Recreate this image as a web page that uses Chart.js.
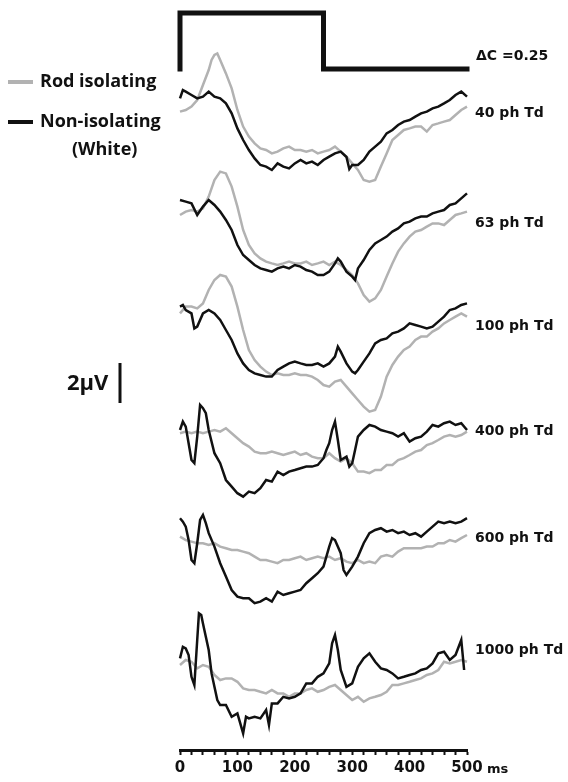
<!DOCTYPE html>
<html>
<head>
<meta charset="utf-8">
<script src="https://cdn.jsdelivr.net/npm/chart.js@4.4.0/dist/chart.umd.min.js"></script>
<style>
  html, body { margin: 0; padding: 0; background: #fff; }
  canvas { display: block; }
</style>
</head>
<body>
<canvas id="ergChart" width="568" height="782"></canvas>
<script>
// stimulus (contrast step, ΔC = 0.25, 0-250 ms)
const stimTime = [0, 0, 250, 250, 500];
const stimContrast = [0, 0.25, 0.25, 0, 0];

// retinal illuminance of each pair of traces
const intensities = ['40 ph Td', '63 ph Td', '100 ph Td', '400 ph Td', '600 ph Td', '1000 ph Td'];

// responses, [time ms, µV]
const rod40 = [[0,-0.33],[10,-0.25],[20,-0.08],[30,0.25],[40,1.0],[50,1.75],[55,2.25],[60,2.5],[65,2.58],[70,2.25],[80,1.58],[90,0.83],[100,-0.25],[110,-1.08],[120,-1.58],[130,-1.92],[140,-2.17],[150,-2.25],[160,-2.42],[170,-2.33],[180,-2.17],[190,-2.08],[200,-2.25],[210,-2.25],[220,-2.33],[230,-2.25],[240,-2.42],[250,-2.33],[260,-2.25],[270,-2.08],[280,-2.33],[290,-2.58],[300,-2.92],[310,-3.25],[320,-3.75],[330,-3.83],[340,-3.75],[350,-3.08],[360,-2.42],[370,-1.75],[380,-1.5],[390,-1.25],[400,-1.17],[410,-1.08],[420,-1.08],[430,-1.33],[440,-1.0],[450,-0.92],[460,-0.83],[470,-0.75],[480,-0.5],[490,-0.25],[500,-0.08]];
const white40 = [[0,0.33],[5,0.75],[10,0.67],[20,0.5],[30,0.33],[40,0.42],[50,0.67],[60,0.42],[70,0.33],[80,0.08],[90,-0.42],[100,-1.17],[110,-1.75],[120,-2.25],[130,-2.67],[140,-3.0],[150,-3.08],[160,-3.25],[170,-2.92],[180,-3.08],[190,-3.17],[200,-2.92],[210,-2.75],[220,-2.92],[230,-2.83],[240,-3.0],[250,-2.75],[260,-2.58],[270,-2.42],[280,-2.33],[290,-2.6],[295,-3.2],[300,-3.0],[310,-3.0],[320,-2.75],[330,-2.33],[340,-2.08],[350,-1.83],[360,-1.42],[370,-1.25],[380,-1.0],[390,-0.83],[400,-0.75],[410,-0.58],[420,-0.42],[430,-0.33],[440,-0.17],[450,-0.08],[460,0.08],[470,0.25],[480,0.5],[490,0.67],[500,0.42]];

const rod63 = [[0,0],[10,0.17],[20,0.25],[30,0.17],[40,0.33],[50,0.92],[60,1.75],[70,2.17],[80,2.08],[90,1.42],[100,0.42],[110,-0.75],[120,-1.5],[130,-1.92],[140,-2.17],[150,-2.33],[160,-2.42],[170,-2.5],[180,-2.42],[190,-2.33],[200,-2.42],[210,-2.42],[220,-2.33],[230,-2.5],[240,-2.42],[250,-2.33],[260,-2.5],[270,-2.33],[280,-2.5],[290,-2.75],[300,-3.0],[310,-3.42],[320,-4.0],[330,-4.33],[340,-4.17],[350,-3.75],[360,-3.08],[370,-2.42],[380,-1.83],[390,-1.42],[400,-1.08],[410,-0.83],[420,-0.75],[430,-0.58],[440,-0.42],[450,-0.42],[460,-0.5],[470,-0.25],[480,0],[490,0.08],[500,0.17]];
const white63 = [[0,0.75],[10,0.67],[20,0.58],[30,0],[40,0.42],[50,0.75],[60,0.5],[70,0.17],[80,-0.25],[90,-0.75],[100,-1.5],[110,-2.0],[120,-2.25],[130,-2.5],[140,-2.67],[150,-2.75],[160,-2.83],[170,-2.67],[180,-2.58],[190,-2.67],[200,-2.5],[210,-2.58],[220,-2.75],[230,-2.83],[240,-3.0],[250,-3.0],[260,-2.83],[270,-2.42],[275,-2.17],[280,-2.33],[290,-2.83],[300,-3.08],[305,-3.25],[310,-2.67],[320,-2.25],[330,-1.75],[340,-1.42],[350,-1.25],[360,-1.08],[370,-0.83],[380,-0.67],[390,-0.42],[400,-0.33],[410,-0.17],[420,-0.08],[430,-0.08],[440,0.08],[450,0.17],[460,0.25],[470,0.5],[480,0.58],[490,0.83],[500,1.08]];

const rod100 = [[0,-0.17],[10,0.17],[20,0.17],[30,0.08],[40,0.33],[50,1.0],[60,1.5],[70,1.75],[80,1.67],[90,1.17],[100,0.17],[110,-1.0],[120,-2.0],[130,-2.5],[140,-2.83],[150,-3.08],[160,-3.25],[170,-3.17],[180,-3.25],[190,-3.25],[200,-3.17],[210,-3.25],[220,-3.25],[230,-3.33],[240,-3.5],[250,-3.75],[260,-3.83],[270,-3.58],[280,-3.5],[290,-3.83],[300,-4.17],[310,-4.5],[320,-4.83],[330,-5.08],[340,-5.0],[350,-4.33],[360,-3.33],[370,-2.75],[380,-2.33],[390,-2.0],[400,-1.83],[410,-1.5],[420,-1.33],[430,-1.33],[440,-1.08],[450,-0.92],[460,-0.67],[470,-0.5],[480,-0.33],[490,-0.17],[500,-0.33]];
const white100 = [[0,0.17],[5,0.25],[10,0],[20,-0.17],[25,-0.92],[30,-0.83],[40,-0.17],[50,0],[60,-0.17],[70,-0.5],[80,-1.0],[90,-1.5],[100,-2.17],[110,-2.67],[120,-3.0],[130,-3.17],[140,-3.25],[150,-3.33],[160,-3.33],[170,-3.0],[180,-2.83],[190,-2.67],[200,-2.58],[210,-2.67],[220,-2.75],[230,-2.75],[240,-2.67],[250,-2.83],[260,-2.67],[270,-2.33],[275,-1.83],[280,-2.08],[290,-2.67],[300,-3.08],[305,-3.17],[310,-3.0],[320,-2.58],[330,-2.17],[340,-1.67],[350,-1.5],[360,-1.42],[370,-1.17],[380,-1.08],[390,-0.92],[400,-0.67],[410,-0.75],[420,-0.83],[430,-0.92],[440,-0.83],[450,-0.58],[460,-0.33],[470,0],[480,0.08],[490,0.25],[500,0.33]];

const rod400 = [[0,-0.08],[10,0],[20,-0.08],[30,0],[40,-0.08],[50,0],[60,0.08],[70,0],[80,0.17],[90,-0.08],[100,-0.33],[110,-0.58],[120,-0.75],[130,-1.0],[140,-1.08],[150,-1.08],[160,-1.0],[170,-1.08],[180,-1.17],[190,-1.08],[200,-1.0],[210,-1.17],[220,-1.08],[230,-1.25],[240,-1.33],[250,-1.33],[260,-1.08],[270,-1.33],[280,-1.5],[290,-1.33],[300,-1.58],[310,-2.0],[320,-2.0],[330,-2.08],[340,-1.92],[350,-1.92],[360,-1.67],[370,-1.67],[380,-1.42],[390,-1.33],[400,-1.17],[410,-1.0],[420,-0.92],[430,-0.67],[440,-0.58],[450,-0.42],[460,-0.25],[470,-0.17],[480,-0.25],[490,-0.17],[500,0]];
const white400 = [[0,0.08],[5,0.5],[10,0.25],[15,-0.58],[20,-1.42],[25,-1.58],[30,-0.25],[35,1.33],[40,1.17],[45,0.92],[50,0.08],[60,-1.08],[70,-1.58],[80,-2.42],[90,-2.75],[100,-3.08],[110,-3.25],[120,-3.0],[130,-3.08],[140,-2.83],[150,-2.42],[160,-2.5],[170,-2.0],[180,-2.17],[190,-2.0],[200,-1.92],[210,-1.83],[220,-1.75],[230,-1.75],[240,-1.67],[250,-1.33],[255,-0.92],[260,-0.58],[265,0.08],[270,0.5],[275,-0.42],[280,-1.42],[290,-1.25],[295,-1.75],[300,-1.58],[305,-0.92],[310,-0.25],[320,0.08],[330,0.33],[340,0.25],[350,0.08],[360,0],[370,-0.08],[380,-0.25],[390,-0.08],[400,-0.5],[410,-0.33],[420,-0.25],[430,0],[440,0.33],[450,0.25],[460,0.42],[470,0.5],[480,0.33],[490,0.42],[500,0.08]];

const rod600 = [[0,0],[10,-0.17],[20,-0.25],[30,-0.33],[40,-0.33],[50,-0.42],[60,-0.33],[70,-0.5],[80,-0.58],[90,-0.67],[100,-0.67],[110,-0.75],[120,-0.83],[130,-1.0],[140,-1.17],[150,-1.17],[160,-1.25],[170,-1.33],[180,-1.17],[190,-1.17],[200,-1.08],[210,-1.0],[220,-1.17],[230,-1.08],[240,-1.0],[250,-1.08],[260,-1.0],[270,-1.17],[280,-1.08],[290,-1.25],[300,-1.33],[310,-1.17],[320,-1.33],[330,-1.25],[340,-1.33],[350,-1.0],[360,-0.92],[370,-1.0],[380,-0.75],[390,-0.58],[400,-0.58],[410,-0.58],[420,-0.58],[430,-0.5],[440,-0.5],[450,-0.33],[460,-0.33],[470,-0.17],[480,-0.25],[490,-0.08],[500,0.08]];
const white600 = [[0,0.92],[5,0.75],[10,0.5],[15,-0.17],[20,-1.17],[25,-1.33],[30,-0.33],[35,0.83],[40,1.08],[45,0.67],[50,0.17],[60,-0.5],[70,-1.33],[80,-2.0],[90,-2.67],[100,-3.0],[110,-3.08],[120,-3.08],[130,-3.33],[140,-3.25],[150,-3.08],[160,-3.25],[170,-2.75],[180,-2.92],[190,-2.83],[200,-2.75],[210,-2.67],[220,-2.33],[230,-2.08],[240,-1.83],[250,-1.5],[260,-0.5],[265,-0.08],[270,-0.17],[280,-0.83],[285,-1.67],[290,-1.92],[300,-1.5],[310,-1.0],[320,-0.33],[330,0.17],[340,0.33],[350,0.42],[360,0.25],[370,0.33],[380,0.17],[390,0.25],[400,0.08],[410,0.17],[420,0],[430,0.25],[440,0.5],[450,0.75],[460,0.67],[470,0.75],[480,0.67],[490,0.75],[500,0.92]];

const rod1000 = [[0,-0.08],[10,0.17],[20,0.08],[30,-0.25],[40,-0.08],[50,-0.17],[60,-0.58],[70,-0.83],[80,-0.75],[90,-0.75],[100,-0.92],[110,-1.25],[120,-1.33],[130,-1.33],[140,-1.42],[150,-1.5],[160,-1.33],[170,-1.5],[180,-1.5],[190,-1.67],[200,-1.5],[210,-1.5],[220,-1.33],[230,-1.25],[240,-1.42],[250,-1.33],[260,-1.17],[270,-1.08],[280,-1.33],[290,-1.58],[300,-1.83],[310,-1.67],[320,-1.92],[330,-1.75],[340,-1.67],[350,-1.58],[360,-1.42],[370,-1.08],[380,-1.08],[390,-1.0],[400,-0.92],[410,-0.83],[420,-0.75],[430,-0.58],[440,-0.5],[450,-0.33],[460,0.08],[470,0],[480,0.08],[490,0.17],[500,0.08]];
const white1000 = [[0,0.25],[5,0.83],[10,0.75],[15,0.42],[20,-0.67],[25,-1.08],[30,1.17],[33,2.5],[37,2.42],[40,2.0],[45,1.33],[50,0.67],[55,-0.5],[60,-1.17],[65,-1.83],[70,-2.08],[80,-2.08],[90,-2.67],[100,-2.5],[110,-3.5],[115,-2.67],[120,-2.75],[130,-2.67],[140,-2.75],[150,-2.33],[155,-3.08],[160,-2.0],[170,-2.0],[180,-1.67],[190,-1.75],[200,-1.67],[210,-1.5],[220,-1.0],[230,-1.0],[240,-0.67],[250,-0.5],[260,0],[265,1.0],[270,1.42],[275,0.67],[280,-0.33],[290,-1.17],[300,-1.0],[310,-0.17],[320,0.25],[330,0.5],[340,0.08],[350,-0.25],[360,-0.33],[370,-0.5],[380,-0.75],[390,-0.67],[400,-0.58],[410,-0.5],[420,-0.33],[430,-0.25],[440,0],[450,0.5],[460,0.58],[470,0.17],[480,0.42],[490,1.17],[495,-0.33]];

const rodTraces = [rod40, rod63, rod100, rod400, rod600, rod1000];
const whiteTraces = [white40, white63, white100, white400, white600, white1000];

// vertical stacking of the traces (µV) and label rows (px) - layout only
const traceOffsets = [-5.0, -10.5, -15.25, -21.33, -26.58, -32.92];
const labelRows = [113, 223, 326, 431, 538, 650];

const GREY = '#b2b2b2';
const BLACK = '#111111';

function shifted(trace, off) {
  return trace.map(p => ({ x: p[0], y: p[1] + off }));
}

const datasets = [];
datasets.push({
  label: 'stimulus',
  data: stimTime.map((t, i) => ({ x: t, y: stimContrast[i] })),
  yAxisID: 'yStim',
  borderColor: BLACK,
  borderWidth: 5,
  borderCapStyle: 'square',
  borderJoinStyle: 'miter',
  order: 0
});
for (let i = 0; i < intensities.length; i++) {
  datasets.push({
    label: 'Rod isolating ' + intensities[i],
    data: shifted(rodTraces[i], traceOffsets[i]),
    yAxisID: 'y',
    borderColor: GREY,
    borderWidth: 2.5,
    order: 2
  });
  datasets.push({
    label: 'Non-isolating ' + intensities[i],
    data: shifted(whiteTraces[i], traceOffsets[i]),
    yAxisID: 'y',
    borderColor: BLACK,
    borderWidth: 2.5,
    order: 1
  });
}

// labels, legend and 2 µV calibration bar
const annotations = {
  id: 'annotations',
  afterDraw(chart) {
    const c = chart.ctx;
    const yS = chart.scales.y;
    c.save();
    c.fillStyle = BLACK;
    c.textBaseline = 'middle';
    c.font = 'bold 14px "DejaVu Sans"';
    c.fillText('\u0394C =0.25', 476, 56);
    intensities.forEach((lab, i) => c.fillText(lab, 475, labelRows[i]));
    c.font = 'bold 13px "DejaVu Sans"';
    c.fillText('ms', 487, 770);

    // legend
    c.lineWidth = 4;
    c.strokeStyle = GREY;
    c.beginPath(); c.moveTo(8, 82); c.lineTo(33, 82); c.stroke();
    c.strokeStyle = BLACK;
    c.beginPath(); c.moveTo(8, 122); c.lineTo(33, 122); c.stroke();
    c.font = 'bold 18px "Open Sans"';
    c.fillText('Rod isolating', 40, 82);
    c.fillText('Non-isolating', 40, 122);
    c.fillText('(White)', 72, 150);

    // calibration bar: 2 µV
    c.font = 'bold 22px "Open Sans"';
    c.fillText('2\u03bcV', 67, 384);
    const barTop = yS.getPixelForValue(-17.9);
    c.lineWidth = 3;
    c.beginPath();
    c.moveTo(120, barTop);
    c.lineTo(120, barTop + (yS.getPixelForValue(-2) - yS.getPixelForValue(0)));
    c.stroke();
    c.restore();
  }
};

new Chart(document.getElementById('ergChart'), {
  type: 'line',
  data: { datasets: datasets },
  options: {
    responsive: false,
    animation: false,
    layout: { padding: { left: 180, right: 101, top: 5, bottom: 0 } },
    elements: { point: { radius: 0 }, line: { tension: 0 } },
    clip: false,
    plugins: { legend: { display: false }, tooltip: { enabled: false } },
    scales: {
      x: {
        type: 'linear',
        min: 0,
        max: 500,
        border: { display: true, color: BLACK, width: 3 },
        grid: { drawOnChartArea: false, drawTicks: true, tickLength: 5, tickWidth: 2, tickColor: BLACK },
        ticks: {
          stepSize: 20,
          autoSkip: false,
          maxRotation: 0,
          padding: 4,
          color: BLACK,
          font: { family: 'DejaVu Sans', weight: 'bold', size: 15 },
          callback: v => (v % 100 === 0 ? String(v) : '')
        },
        afterFit: axis => { axis.height = 32; }
      },
      y: { display: false, min: -37.25, max: 0 },
      yStim: { display: false, min: -3.0402, max: 0.2857 }
    }
  },
  plugins: [annotations]
});
</script>
</body>
</html>
